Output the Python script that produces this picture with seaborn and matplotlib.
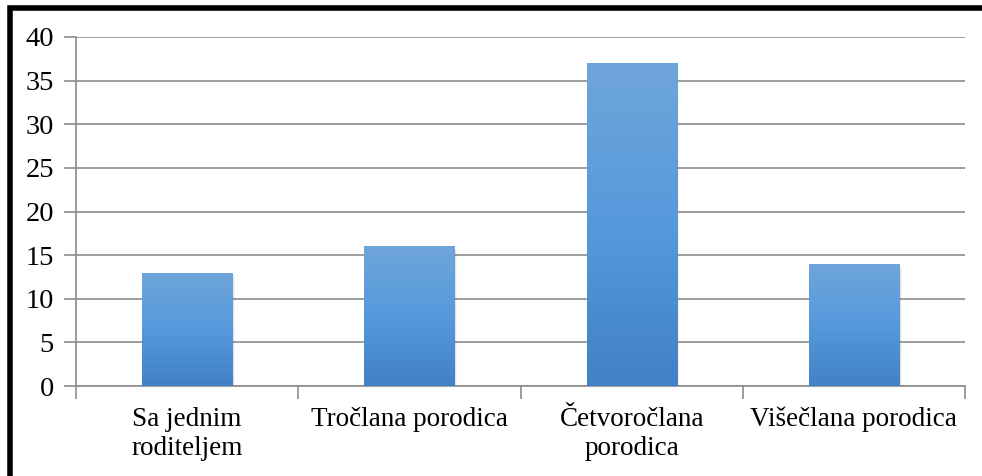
import numpy as np
import pandas as pd
import matplotlib
matplotlib.use("Agg")
import matplotlib.pyplot as plt
import seaborn as sns
from matplotlib.colors import LinearSegmentedColormap
from matplotlib.patches import Rectangle

categories = ["Sa jednim\nroditeljem", "Tročlana porodica", "Četvoročlana\nporodica", "Višečlana porodica"]
values = [13, 16, 37, 14]
y_ticks = [0, 5, 10, 15, 20, 25, 30, 35, 40]

sns.set_theme(style="white")
plt.rcParams["font.family"] = ["Liberation Serif", "DejaVu Serif"]

df = pd.DataFrame({"kategorija": categories, "broj": values})

fig = plt.figure(figsize=(9.82, 4.76), dpi=100)
ax = fig.add_axes([0.0774, 0.189, 0.9053, 0.7333])

sns.barplot(data=df, x="kategorija", y="broj", ax=ax, width=0.405,
            color="#5b9bd5", saturation=1, zorder=3)

ax.set_ylim(0, 40)
ax.set_xlim(-0.5, len(categories) - 0.5)
ax.set_yticks(y_ticks)
ax.set_xlabel("")
ax.set_ylabel("")

# vertical blue gradient with a soft shadow on each bar
cmap = LinearSegmentedColormap.from_list("bar", ["#4181c7", "#5699dc", "#6fa6da"])
grad = np.linspace(0, 1, 256).reshape(-1, 1)
for patch in ax.patches:
    x0, y0 = patch.get_x(), patch.get_y()
    w, h = patch.get_width(), patch.get_height()
    for i, a in enumerate([0.10, 0.07, 0.04]):
        sh = Rectangle((x0 + 0.004 * (i + 1), y0 - 0.12 * (i + 1)), w, h,
                       facecolor="black", alpha=a, edgecolor="none", zorder=2)
        ax.add_patch(sh)
    im = ax.imshow(grad, cmap=cmap, aspect="auto", origin="lower",
                   extent=(x0, x0 + w, y0, y0 + h), zorder=4)
    im.set_clip_path(patch)
    patch.set_edgecolor("none")

ax.set_xlim(-0.5, len(categories) - 0.5)
ax.set_ylim(0, 40)

grid_c = "#8c8c8c"
ax.yaxis.grid(True, color=grid_c, linewidth=1.2, zorder=0)
ax.set_axisbelow(True)
for s in ["top", "right"]:
    ax.spines[s].set_visible(False)
for s in ["left", "bottom"]:
    ax.spines[s].set_color(grid_c)
    ax.spines[s].set_linewidth(1.2)

ax.tick_params(axis="y", which="major", direction="out", length=9, width=1.2,
               color=grid_c, labelsize=20.5, pad=7, left=True)
# category boundary ticks on the x axis
ax.set_xticks(np.arange(len(categories)))
ax.set_xticklabels(categories, fontsize=19.5, linespacing=1.2)
ax.tick_params(axis="x", which="major", length=0, pad=15)
ax.set_xticks(np.arange(len(categories) + 1) - 0.5, minor=True)
ax.tick_params(axis="x", which="minor", direction="out", length=9, width=1.2,
               color=grid_c, bottom=True)
for lab in ax.get_xticklabels() + ax.get_yticklabels():
    lab.set_color("black")

# outer frame of the chart area
frame = Rectangle((0.0102, -0.05), 1.05, 0.9835 + 0.05, transform=fig.transFigure,
                  fill=False, edgecolor="black", linewidth=4, zorder=10)
fig.patches.append(frame)

fig.savefig("out.png", dpi=100)
